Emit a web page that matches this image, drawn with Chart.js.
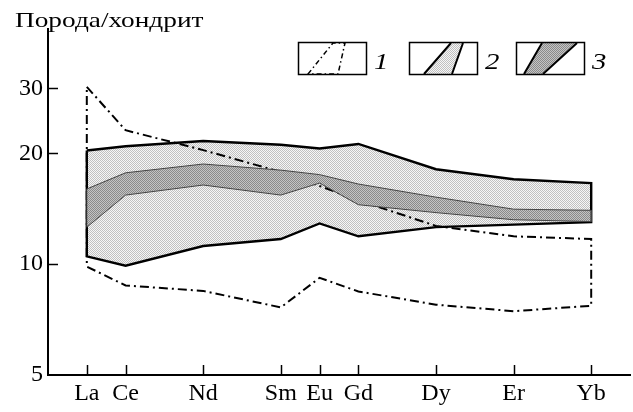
<!DOCTYPE html>
<html>
<head>
<meta charset="utf-8">
<script src="https://cdn.jsdelivr.net/npm/chart.js@4.4.1/dist/chart.umd.min.js"></script>
<style>
html, body { margin: 0; padding: 0; background: #fff; }
#wrap { width: 633px; height: 412px; }
</style>
</head>
<body>
<div id="wrap"><canvas id="myChart"></canvas></div>
<script>
// REE on x, placed by atomic number
const elements = ['La', 'Ce', 'Nd', 'Sm', 'Eu', 'Gd', 'Dy', 'Er', 'Yb'];
const atomicNo = [57, 58, 60, 62, 63, 64, 66, 68, 70];
const yTicks = [5, 10, 20, 30];

// 1 - dash-dot field
const field1Top = [30.3, 23.1, 20.4, 17.8, 16.3, 14.9, 12.7, 11.9, 11.7];
const field1Bottom = [9.85, 8.75, 8.46, 7.63, 9.18, 8.43, 7.76, 7.45, 7.71];
// 2 - light field
const field2Top = [20.35, 20.9, 21.6, 21.1, 20.6, 21.2, 18.1, 17.0, 16.6];
const field2Bottom = [10.5, 9.9, 11.2, 11.7, 12.9, 11.9, 12.6, 12.8, 13.0];
// 3 - dark field
const field3Top = [16.0, 17.7, 18.7, 18.0, 17.5, 16.5, 15.2, 14.1, 14.0];
const field3Bottom = [12.6, 15.4, 16.4, 15.4, 16.6, 14.5, 13.8, 13.2, 13.05];

var Chart1 = document.getElementById('myChart');
var ctx = Chart1.getContext('2d');

// checker stipple like the print halftone
function makePattern(c1, c2) {
    let p = document.createElement('canvas');
    p.width = 2; p.height = 2;
    let g = p.getContext('2d');
    g.fillStyle = c1; g.fillRect(0, 0, 2, 2);
    g.fillStyle = c2; g.fillRect(0, 0, 1, 1); g.fillRect(1, 1, 1, 1);
    return ctx.createPattern(p, 'repeat');
}
const lightFill = makePattern('#f6f6f6', '#c0c0c0');
const darkFill = makePattern('#c4c4c4', '#8a8a8a');

let pts = (arr) => arr.map((v, i) => ({x: atomicNo[i], y: v}));
// closed outline: top left->right, bottom right->left, back to start
let ring = (top, bottom) => {
    let a = pts(top);
    let b = pts(bottom).reverse();
    return a.concat(b, [a[0]]);
};

const dashDot = [9, 4, 2, 4];

const data = {
  datasets: [
    // field 3 fill
    { data: pts(field3Top), fill: '+1', backgroundColor: darkFill, borderWidth: 0, pointRadius: 0, order: 2 },
    { data: pts(field3Bottom), fill: false, borderWidth: 0, pointRadius: 0, order: 2 },
    // field 3 outline
    { data: ring(field3Top, field3Bottom), fill: false, borderColor: '#444', borderWidth: 1, pointRadius: 0, order: 1 },
    // field 1 outline
    { data: ring(field1Top, field1Bottom), fill: false, borderColor: '#000', borderWidth: 2, borderDash: dashDot, pointRadius: 0, order: 4 },
    // field 2 fill
    { data: pts(field2Top), fill: '+1', backgroundColor: lightFill, borderWidth: 0, pointRadius: 0, order: 6 },
    { data: pts(field2Bottom), fill: false, borderWidth: 0, pointRadius: 0, order: 6 },
    // field 2 outline
    { data: ring(field2Top, field2Bottom), fill: false, borderColor: '#000', borderWidth: 2.4, pointRadius: 0, order: 3 }
  ]
};

// ticks inside the frame, title and the legend boxes
const extras = {
  id: 'extras',
  afterDraw(chart) {
    const c = chart.ctx;
    const xs = chart.scales.x, ys = chart.scales.y;
    const area = chart.chartArea;
    c.save();
    c.strokeStyle = '#000';
    c.lineWidth = 1.5;
    atomicNo.forEach(n => {
        let px = Math.round(xs.getPixelForValue(n)) + 0.5;
        c.beginPath(); c.moveTo(px, area.bottom); c.lineTo(px, area.bottom - 10); c.stroke();
    });
    [10, 20, 30].forEach(v => {
        let py = Math.round(ys.getPixelForValue(v)) + 0.5;
        c.beginPath(); c.moveTo(area.left, py); c.lineTo(area.left + 10, py); c.stroke();
    });

    // the print is stretched sideways, so stretch the text too
    c.fillStyle = '#000';
    c.textBaseline = 'alphabetic';
    c.save();
    c.translate(15, 27);
    c.scale(1.3, 1);
    c.font = '21px "Liberation Serif"';
    c.fillText('Порода/хондрит', 0, 0);
    c.restore();

    // legend boxes
    let box = (x0, label) => {
        c.setLineDash([]);
        c.lineWidth = 1.5;
        c.strokeStyle = '#000';
        c.strokeRect(x0 + 0.5, 42.5, 68, 32);
        c.save();
        c.translate(x0 + 76, 69);
        c.scale(1.2, 1);
        c.font = 'italic 24px "Liberation Serif"';
        c.fillText(label, 0, 0);
        c.restore();
    };
    // 1
    c.beginPath();
    c.moveTo(308, 74); c.lineTo(333, 43); c.lineTo(345, 43); c.lineTo(338, 74); c.closePath();
    c.setLineDash([5, 3, 1.5, 3]);
    c.lineWidth = 1.5;
    c.stroke();
    box(298, '1');
    // 2
    c.beginPath();
    c.moveTo(424, 74); c.lineTo(451, 43); c.lineTo(463, 43); c.lineTo(452, 74); c.closePath();
    c.fillStyle = lightFill; c.fill();
    c.fillStyle = '#000';
    c.setLineDash([]);
    c.lineWidth = 2;
    c.beginPath(); c.moveTo(424, 74); c.lineTo(451, 43); c.moveTo(463, 43); c.lineTo(452, 74); c.stroke();
    box(409, '2');
    // 3
    c.beginPath();
    c.moveTo(524, 74); c.lineTo(542, 43); c.lineTo(577, 43); c.lineTo(543, 74); c.closePath();
    c.fillStyle = darkFill; c.fill();
    c.fillStyle = '#000';
    c.lineWidth = 2;
    c.beginPath(); c.moveTo(524, 74); c.lineTo(542, 43); c.moveTo(577, 43); c.lineTo(543, 74); c.stroke();
    box(516, '3');
    c.restore();
  }
};

const config = {
  type: 'line',
  data,
  options: {
    responsive: true,
    maintainAspectRatio: false,
    animation: false,
    layout: { padding: { top: 29, right: 3, left: 0, bottom: 0 } },
    elements: { line: { tension: 0 } },
    plugins: {
      legend: { display: false },
      tooltip: { enabled: false },
      filler: { drawTime: 'beforeDatasetDraw' }
    },
    scales: {
      x: {
        type: 'linear',
        min: 56,
        max: 71,
        afterBuildTicks: s => { s.ticks = atomicNo.map(v => ({value: v})); },
        afterFit: s => { s.height = 37; },
        grid: { display: false, drawTicks: false, tickLength: 0 },
        border: { display: true, color: '#000', width: 2 },
        ticks: {
          color: '#000',
          font: { family: 'Liberation Serif', size: 24 },
          padding: 4,
          autoSkip: false,
          maxRotation: 0,
          callback: v => elements[atomicNo.indexOf(v)]
        }
      },
      y: {
        type: 'logarithmic',
        min: 5,
        max: 43.5,
        afterBuildTicks: s => { s.ticks = yTicks.map(v => ({value: v})); },
        afterFit: s => { s.width = 48; },
        grid: { display: false, drawTicks: false, tickLength: 0 },
        border: { display: true, color: '#000', width: 2 },
        ticks: {
          color: '#000',
          font: { family: 'Liberation Serif', size: 24 },
          padding: 5,
          callback: v => String(v)
        }
      }
    }
  },
  plugins: [extras]
};

let myChart = new Chart(Chart1, config);
</script>
</body>
</html>
